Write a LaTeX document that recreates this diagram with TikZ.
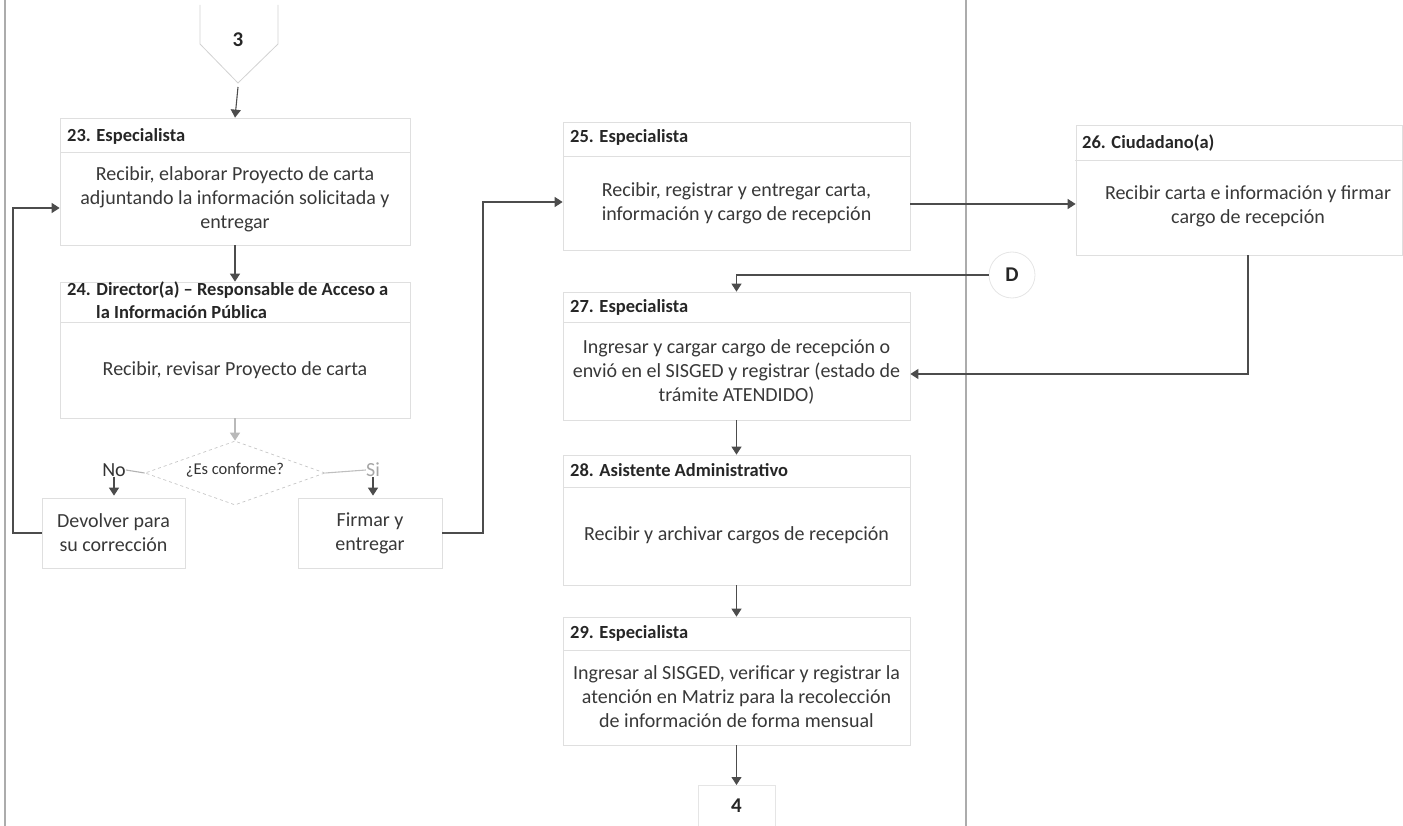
\documentclass[tikz,border=0pt]{standalone}
\usepackage{fontspec}
\setmainfont{Carlito}
\usetikzlibrary{arrows.meta,shapes.geometric,calc}

\tikzset{
  lane/.style={draw=gray!65, line width=1.6pt},
  stepbox/.style={draw=gray!25, line width=0.7pt, rectangle, inner sep=0pt},
  sep/.style={draw=gray!25, line width=0.7pt},
  hdr/.style={font=\fontsize{18.5}{22}\selectfont\bfseries, text=black!85, anchor=west, inner sep=0pt},
  body/.style={font=\fontsize{20}{24}\selectfont, text=black!78, align=center, inner sep=0pt},
  small/.style={font=\fontsize{16.5}{18}\selectfont, text=black!80, inner sep=0pt},
  pagelabel/.style={font=\fontsize{21}{22}\selectfont\bfseries, text=black!85},
  link/.style={draw=black!70, line width=1.1pt},
  arr/.style={link, -{Triangle[length=8pt,width=10pt]}},
  softarr/.style={draw=gray!55, line width=1.1pt, -{Triangle[length=8pt,width=10pt]}},
  conn/.style={draw=gray!35, line width=0.8pt},
}

\begin{document}
\begin{tikzpicture}[x=1pt, y={(0pt,-1pt)}]
  \useasboundingbox (0,0) rectangle (1403,826);

  % swimlane borders
  \draw[lane] (5,0) -- (5,826);
  \draw[lane] (966,0) -- (966,826);

  % off-page connector 3
  \node[pagelabel] (c3) at (238,40) {3};
  \draw[conn] (200,5) -- (200,44) -- (238,83) -- (278,44) -- (278,5);
  \coordinate (c3tip) at (238,87);

  % step 23
  \node[stepbox, minimum width=350pt, minimum height=127pt] (b23) at (235,181.5) {};
  \node[hdr] (t23) at (67,136) {23. Especialista};
  \draw[sep] (60,152) -- (410,152);
  \node[body] (x23) at (235,199) {Recibir, elaborar Proyecto de carta\\adjuntando la información solicitada y\\entregar};

  % step 24
  \node[stepbox, minimum width=350pt, minimum height=136pt] (b24) at (235,350) {};
  \node[hdr] (t24a) at (67,290) {24. Director(a) – Responsable de Acceso a};
  \node[hdr] (t24b) at (96,312) {la Información Pública};
  \draw[sep] (60,322) -- (410,322);
  \node[body] (x24) at (235,370) {Recibir, revisar Proyecto de carta};

  % decision
  \node[diamond, draw=gray!45, dashed, line width=0.7pt, inner sep=0pt, aspect=3,
        minimum width=180pt, minimum height=64pt] (conf) at (235,473) {};
  \node[small] (qconf) at (235,470) {¿Es conforme?};
  \node[body, text=black!80] (no) at (114,470) {No};
  \node[body, text=gray!70] (si) at (373,470) {Si};

  % outcomes
  \node[stepbox, minimum width=143pt, minimum height=70pt] (dev) at (113.5,533) {};
  \node[body] (xdev) at (113.5,533) {Devolver para\\su corrección};
  \node[stepbox, minimum width=144pt, minimum height=70pt] (fir) at (370,533) {};
  \node[body] (xfir) at (370,533) {Firmar y\\entregar};

  % step 25
  \node[stepbox, minimum width=347pt, minimum height=128pt] (b25) at (736.5,186) {};
  \node[hdr] (t25) at (570,137) {25. Especialista};
  \draw[sep] (563,156) -- (910,156);
  \node[body] (x25) at (736.5,203) {Recibir, registrar y entregar carta,\\información y cargo de recepción};

  % step 26
  \node[stepbox, minimum width=326pt, minimum height=130pt] (b26) at (1239,190) {};
  \node[hdr] (t26) at (1082,143) {26. Ciudadano(a)};
  \draw[sep] (1075,160) -- (1403,160);
  \node[body] (x26) at (1248,206) {Recibir carta e información y firmar\\cargo de recepción};

  % connector D
  \node[circle, draw=gray!20, line width=0.8pt, minimum size=46pt, inner sep=0pt, pagelabel] (D) at (1012,275) {D};

  % step 27
  \node[stepbox, minimum width=347pt, minimum height=128pt] (b27) at (736.5,356) {};
  \node[hdr] (t27) at (570,307) {27. Especialista};
  \draw[sep] (563,322) -- (910,322);
  \node[body] (x27) at (736.5,372) {Ingresar y cargar cargo de recepción o\\envió en el SISGED y registrar (estado de\\trámite ATENDIDO)};

  % step 28
  \node[stepbox, minimum width=347pt, minimum height=130pt] (b28) at (736.5,520) {};
  \node[hdr] (t28) at (570,470) {28. Asistente Administrativo};
  \draw[sep] (563,487) -- (910,487);
  \node[body] (x28) at (736.5,535) {Recibir y archivar cargos de recepción};

  % step 29
  \node[stepbox, minimum width=347pt, minimum height=128pt] (b29) at (736.5,681) {};
  \node[hdr] (t29) at (570,633) {29. Especialista};
  \draw[sep] (563,650) -- (910,650);
  \node[body] (x29) at (736.5,697) {Ingresar al SISGED, verificar y registrar la\\atención en Matriz para la recolección\\de información de forma mensual};

  % off-page connector 4
  \node[draw=gray!20, line width=0.8pt, minimum width=77pt, minimum height=46pt, inner sep=0pt,
        anchor=north] (c4) at (736.5,785) {};
  \node[pagelabel] (t4) at (736.5,806) {4};

  % flow
  \draw[arr] (c3tip) -- (b23.north);
  \draw[arr] (b23.south) -- (b24.north);
  \draw[softarr] (b24.south) -- (conf.north);
  \draw[link, draw=gray!60] (conf.west) -- (no.east);
  \draw[link, draw=gray!50] (conf.east) -- (si.west);
  \draw[arr, shorten >=2pt] (no.south) -- (no.south |- dev.north);
  \draw[arr, shorten >=2pt] (si.south) -- (si.south |- fir.north);
  \draw[arr] (dev.west) -- (13,533) |- ($(b23.west)+(0,26.5)$);
  \draw[arr] (fir.east) -- (483,533) |- ($(b25.west)+(0,16)$);
  \draw[arr] ($(b25.east)+(0,18)$) -- ($(b26.west)+(0,14)$);
  \draw[arr] ($(b26.south)+(9,0)$) |- ($(b27.east)+(0,18)$);
  \draw[arr] (D.west) -| (b27.north);
  \draw[arr] (b27.south) -- (b28.north);
  \draw[arr] (b28.south) -- (b29.north);
  \draw[arr] (b29.south) -- (c4.north);
\end{tikzpicture}
\end{document}
